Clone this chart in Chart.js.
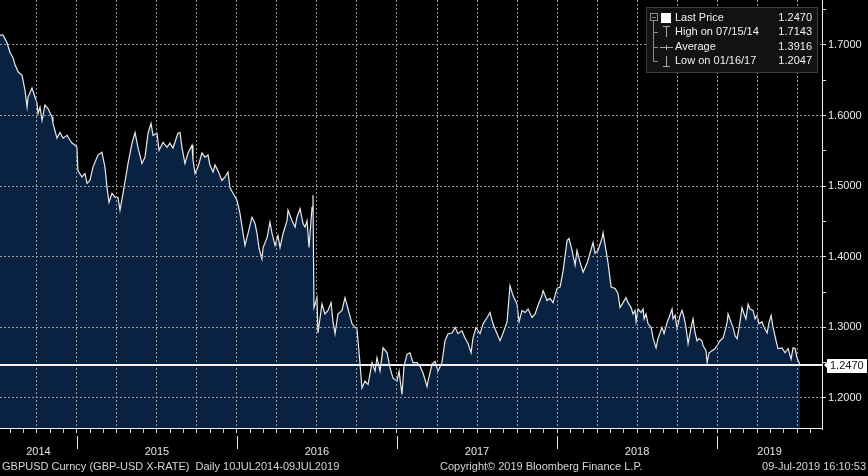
<!DOCTYPE html>
<html>
<head>
<meta charset="utf-8">
<script src="https://cdn.jsdelivr.net/npm/chart.js@4"></script>
<style>
  html, body { margin: 0; padding: 0; background: #000; }
  #wrap { width: 868px; height: 476px; }
</style>
</head>
<body>
<div id="wrap"><canvas id="fx" width="868" height="476"></canvas></div>
<script>
// GBPUSD daily (dates as decimal years)
const dates = [
  2014.519, 2014.538, 2014.563, 2014.582, 2014.600, 2014.613, 2014.632, 2014.657, 2014.675, 2014.688,
  2014.694, 2014.719, 2014.738, 2014.750, 2014.757, 2014.769, 2014.782, 2014.800, 2014.819, 2014.844,
  2014.850, 2014.875, 2014.894, 2014.913, 2014.938, 2014.957, 2014.969, 2014.988, 2015.000, 2015.006,
  2015.031, 2015.050, 2015.063, 2015.081, 2015.100, 2015.131, 2015.156, 2015.175, 2015.188, 2015.200,
  2015.219, 2015.238, 2015.256, 2015.269, 2015.288, 2015.319, 2015.344, 2015.363, 2015.381, 2015.406,
  2015.425, 2015.444, 2015.463, 2015.475, 2015.500, 2015.513, 2015.538, 2015.563, 2015.581, 2015.600,
  2015.631, 2015.644, 2015.656, 2015.675, 2015.694, 2015.719, 2015.725, 2015.738, 2015.756, 2015.781,
  2015.800, 2015.819, 2015.831, 2015.850, 2015.863, 2015.881, 2015.906, 2015.925, 2015.944, 2015.956,
  2015.975, 2016.000, 2016.019, 2016.038, 2016.050, 2016.069, 2016.094, 2016.113, 2016.125, 2016.138,
  2016.156, 2016.163, 2016.188, 2016.206, 2016.219, 2016.238, 2016.256, 2016.269, 2016.288, 2016.313,
  2016.319, 2016.344, 2016.363, 2016.375, 2016.394, 2016.413, 2016.425, 2016.438, 2016.450, 2016.469,
  2016.475, 2016.481, 2016.500, 2016.506, 2016.531, 2016.550, 2016.569, 2016.588, 2016.600, 2016.613,
  2016.631, 2016.656, 2016.675, 2016.694, 2016.719, 2016.738, 2016.750, 2016.769, 2016.781, 2016.800,
  2016.819, 2016.844, 2016.863, 2016.875, 2016.894, 2016.913, 2016.938, 2016.956, 2016.975, 2017.000,
  2017.013, 2017.031, 2017.044, 2017.063, 2017.081, 2017.100, 2017.125, 2017.144, 2017.163, 2017.188,
  2017.194, 2017.219, 2017.238, 2017.256, 2017.281, 2017.300, 2017.319, 2017.344, 2017.363, 2017.381,
  2017.406, 2017.425, 2017.444, 2017.463, 2017.475, 2017.494, 2017.519, 2017.538, 2017.563, 2017.581,
  2017.600, 2017.625, 2017.644, 2017.663, 2017.688, 2017.706, 2017.725, 2017.750, 2017.763, 2017.781,
  2017.800, 2017.819, 2017.844, 2017.863, 2017.881, 2017.906, 2017.913, 2017.938, 2017.956, 2017.975,
  2018.000, 2018.019, 2018.038, 2018.063, 2018.075, 2018.094, 2018.113, 2018.125, 2018.144, 2018.163,
  2018.188, 2018.206, 2018.225, 2018.238, 2018.256, 2018.281, 2018.288, 2018.306, 2018.319, 2018.338,
  2018.363, 2018.381, 2018.394, 2018.413, 2018.431, 2018.444, 2018.463, 2018.475, 2018.488, 2018.494,
  2018.506, 2018.525, 2018.538, 2018.544, 2018.556, 2018.569, 2018.588, 2018.600, 2018.619, 2018.631,
  2018.656, 2018.669, 2018.688, 2018.700, 2018.719, 2018.725, 2018.738, 2018.750, 2018.769, 2018.781,
  2018.794, 2018.806, 2018.819, 2018.838, 2018.850, 2018.863, 2018.875, 2018.888, 2018.906, 2018.913,
  2018.931, 2018.938, 2018.950, 2018.969, 2018.988, 2019.000, 2019.019, 2019.038, 2019.050, 2019.063,
  2019.069, 2019.088, 2019.100, 2019.113, 2019.125, 2019.138, 2019.156, 2019.169, 2019.181, 2019.194,
  2019.206, 2019.225, 2019.238, 2019.250, 2019.263, 2019.281, 2019.294, 2019.313, 2019.325, 2019.338,
  2019.350, 2019.369, 2019.381, 2019.406, 2019.425, 2019.444, 2019.463, 2019.475, 2019.488, 2019.500,
  2019.513, 2019.519
];
const rates = [
  1.714, 1.714, 1.703, 1.689, 1.682, 1.672, 1.662, 1.657, 1.636, 1.612,
  1.626, 1.639, 1.626, 1.618, 1.603, 1.612, 1.593, 1.615, 1.610, 1.598,
  1.589, 1.568, 1.576, 1.568, 1.572, 1.565, 1.561, 1.558, 1.555, 1.522,
  1.513, 1.518, 1.504, 1.508, 1.527, 1.544, 1.548, 1.527, 1.498, 1.477,
  1.490, 1.484, 1.484, 1.466, 1.490, 1.532, 1.561, 1.576, 1.555, 1.532,
  1.541, 1.575, 1.589, 1.572, 1.575, 1.551, 1.562, 1.555, 1.561, 1.554,
  1.575, 1.576, 1.555, 1.532, 1.547, 1.558, 1.537, 1.518, 1.527, 1.547,
  1.541, 1.544, 1.530, 1.520, 1.530, 1.522, 1.508, 1.513, 1.520, 1.498,
  1.490, 1.480, 1.461, 1.433, 1.416, 1.433, 1.456, 1.447, 1.433, 1.412,
  1.397, 1.413, 1.427, 1.449, 1.433, 1.416, 1.430, 1.413, 1.433, 1.451,
  1.466, 1.451, 1.442, 1.456, 1.468, 1.447, 1.442, 1.451, 1.413, 1.470,
  1.487, 1.328, 1.342, 1.292, 1.333, 1.319, 1.324, 1.335, 1.308, 1.291,
  1.319, 1.324, 1.342, 1.326, 1.305, 1.300, 1.298, 1.248, 1.214, 1.224,
  1.219, 1.250, 1.238, 1.257, 1.238, 1.271, 1.264, 1.243, 1.228, 1.224,
  1.238, 1.205, 1.245, 1.262, 1.264, 1.250, 1.250, 1.245, 1.235, 1.216,
  1.224, 1.248, 1.252, 1.238, 1.250, 1.281, 1.291, 1.292, 1.300, 1.291,
  1.295, 1.285, 1.277, 1.264, 1.285, 1.300, 1.291, 1.305, 1.314, 1.321,
  1.305, 1.291, 1.281, 1.292, 1.308, 1.359, 1.345, 1.333, 1.308, 1.324,
  1.321, 1.326, 1.314, 1.319, 1.331, 1.345, 1.352, 1.338, 1.341, 1.335,
  1.355, 1.357, 1.380, 1.423, 1.426, 1.409, 1.388, 1.409, 1.392, 1.378,
  1.391, 1.405, 1.420, 1.405, 1.409, 1.426, 1.434, 1.409, 1.391, 1.357,
  1.355, 1.348, 1.328, 1.335, 1.342, 1.335, 1.328, 1.319, 1.324, 1.308,
  1.326, 1.321, 1.326, 1.312, 1.319, 1.305, 1.300, 1.285, 1.271, 1.284,
  1.300, 1.291, 1.307, 1.314, 1.326, 1.312, 1.317, 1.298, 1.317, 1.324,
  1.314, 1.300, 1.277, 1.300, 1.312, 1.292, 1.281, 1.284, 1.281, 1.274,
  1.267, 1.250, 1.264, 1.267, 1.270, 1.274, 1.281, 1.285, 1.295, 1.307,
  1.319, 1.307, 1.300, 1.288, 1.284, 1.300, 1.328, 1.319, 1.312, 1.333,
  1.326, 1.324, 1.312, 1.317, 1.305, 1.308, 1.300, 1.292, 1.307, 1.317,
  1.300, 1.281, 1.270, 1.271, 1.264, 1.270, 1.255, 1.271, 1.270, 1.257,
  1.250, 1.247
];

const yearLabels = ['2014', '2015', '2016', '2017', '2018', '2019'];
const yGridValues = [1.2, 1.3, 1.4, 1.5, 1.6, 1.7];
const legendLabels = ['Last Price', 'High on 07/15/14', 'Average', 'Low on 01/16/17'];
const legendValues = [1.2470, 1.7143, 1.3916, 1.2047];
const lastPrice = 1.2470;
const footerLeft = 'GBPUSD Curncy (GBP-USD X-RATE)  Daily 10JUL2014-09JUL2019';
const footerMid = 'Copyright\u00A9 2019 Bloomberg Finance L.P.';
const footerRight = '09-Jul-2019 16:10:53';

const FONT = '11px "Liberation Sans", Arial, sans-serif';
const GRID = '#9a9a9a';

const points = dates.map((d, i) => ({ x: d, y: rates[i] }));

function isQuarter(v) {
    const m = Math.round((v - Math.floor(v)) * 12);
    return m % 3 === 0;
}
function isMajorY(v) {
    return Math.abs(v * 10 - Math.round(v * 10)) < 1e-6;
}

// grid rows, axis line, year labels, footer, last price tag and legend box
const overlay = {
    id: 'overlay',
    afterDraw(chart) {
        const ctx = chart.ctx;
        const x = chart.scales.x, y = chart.scales.y;
        const area = chart.chartArea;
        ctx.save();
        ctx.font = FONT;
        ctx.textBaseline = 'middle';

        // horizontal dotted grid
        ctx.fillStyle = GRID;
        yGridValues.forEach(v => {
            const gy = Math.floor(y.getPixelForValue(v));
            for (let px = 0; px < area.right; px += 4) ctx.fillRect(px, gy, 2, 1);
        });

        // bottom axis line and monthly ticks
        const by0 = Math.floor(area.bottom) - 1;
        ctx.fillStyle = '#f4f4f4';
        ctx.fillRect(0, by0, area.right + 1, 1);
        ctx.fillStyle = '#d0d0d0';
        x.ticks.forEach(t => {
            const tx = Math.floor(x.getPixelForValue(t.value));
            ctx.fillRect(tx, by0 + 1, 1, 4);
        });

        // last price line
        const py = Math.round(y.getPixelForValue(lastPrice));
        ctx.fillStyle = '#f2f2f2';
        ctx.fillRect(area.left, py - 1, area.right - area.left, 2);

        // last price tag on the axis
        ctx.fillStyle = '#ffffff';
        ctx.beginPath();
        ctx.moveTo(area.right + 2, py);
        ctx.lineTo(area.right + 6, py - 4);
        ctx.lineTo(area.right + 6, py + 4);
        ctx.closePath();
        ctx.fill();
        ctx.fillRect(area.right + 5, py - 6, 40, 14);
        ctx.fillStyle = '#111';
        ctx.textAlign = 'left';
        ctx.fillText(lastPrice.toFixed(4), area.right + 8, py + 1);

        // year separators and labels
        ctx.fillStyle = '#e6e6e6';
        ctx.textAlign = 'center';
        yearLabels.forEach(lbl => {
            const yr = Number(lbl);
            const s = Math.max(yr, x.min), e = Math.min(yr + 1, x.max);
            const cx = (x.getPixelForValue(s) + x.getPixelForValue(e)) / 2;
            ctx.fillText(lbl, cx, 452);
            if (yr > x.min) {
                const sx = Math.round(x.getPixelForValue(yr));
                ctx.fillRect(sx, 436, 1, 13);
            }
        });

        // footer
        ctx.fillStyle = '#d6d6d6';
        ctx.textAlign = 'left';
        ctx.fillText(footerLeft, 2, 467);
        ctx.fillText(footerMid, 440, 467);
        ctx.textAlign = 'right';
        ctx.fillText(footerRight, 866, 467);

        // legend box
        const bx = 646, by = 7, bw = 172, bh = 66;
        ctx.fillStyle = '#3c3c3c';
        ctx.fillRect(bx, by, bw, bh);
        ctx.fillStyle = '#121212';
        ctx.fillRect(bx + 1, by + 1, bw - 2, bh - 2);

        const rowY = [18, 32, 47, 61];
        // tree lines
        ctx.fillStyle = '#8a8a8a';
        ctx.fillRect(650, 13, 8, 8);
        ctx.fillStyle = '#121212';
        ctx.fillRect(651, 14, 6, 6);
        ctx.fillStyle = '#8a8a8a';
        ctx.fillRect(652, 17, 4, 1);
        ctx.fillRect(653, 21, 1, 41);
        rowY.slice(1).forEach(ry => ctx.fillRect(653, ry, 5, 1));

        // icons
        ctx.fillStyle = '#ffffff';
        ctx.fillRect(661, 13, 10, 10);
        ctx.fillStyle = '#a8a8a8';
        ctx.fillRect(663, 26, 7, 1);
        ctx.fillRect(666, 26, 1, 11);
        ctx.fillRect(660, 47, 13, 1);
        ctx.fillRect(666, 45, 1, 5);
        ctx.fillRect(666, 56, 1, 11);
        ctx.fillRect(663, 66, 7, 1);

        ctx.fillStyle = '#f0f0f0';
        legendLabels.forEach((lbl, i) => {
            ctx.textAlign = 'left';
            ctx.fillText(lbl, 675, rowY[i]);
            ctx.textAlign = 'right';
            ctx.fillText(legendValues[i].toFixed(4), 812, rowY[i]);
        });
        ctx.restore();
    }
};

const chart = new Chart(document.getElementById('fx').getContext('2d'), {
    type: 'line',
    data: {
        datasets: [{
            data: points,
            borderColor: '#e9e9e9',
            borderWidth: 1.2,
            backgroundColor: '#0a2242',
            fill: 'start',
            pointRadius: 0,
            tension: 0
        }]
    },
    options: {
        responsive: false,
        animation: false,
        devicePixelRatio: 1,
        layout: { padding: 0 },
        plugins: {
            legend: { display: false },
            tooltip: { enabled: false }
        },
        scales: {
            x: {
                type: 'linear',
                min: 2014.519,
                max: 2019.656,
                afterBuildTicks: axis => {
                    const t = [];
                    for (let yr = 2014; yr <= 2019; yr++) {
                        for (let m = 0; m < 12; m++) {
                            const v = yr + m / 12;
                            if (v > axis.min && v < axis.max) t.push({ value: v });
                        }
                    }
                    axis.ticks = t;
                },
                afterFit: axis => { axis.height = 47; },
                ticks: { display: false },
                grid: {
                    z: 1,
                    color: c => (c.tick && isQuarter(c.tick.value)) ? GRID : 'rgba(0,0,0,0)',
                    drawTicks: false
                },
                border: { z: 1, display: false, dash: [2, 2] }
            },
            y: {
                position: 'right',
                min: 1.156,
                max: 1.7637,
                afterBuildTicks: axis => {
                    const t = [];
                    for (let k = 24; k <= 35; k++) t.push({ value: k / 20 });
                    axis.ticks = t;
                },
                afterFit: axis => {
                    axis.width = 46;
                    axis.paddingTop = 0;
                    axis.paddingBottom = 0;
                },
                ticks: {
                    color: '#ececec',
                    font: { family: '"Liberation Sans", Arial, sans-serif', size: 11 },
                    padding: 2,
                    autoSkip: false,
                    callback: v => isMajorY(v) ? v.toFixed(4) : ''
                },
                grid: {
                    z: 1,
                    drawOnChartArea: false,
                    tickColor: '#e0e0e0',
                    tickLength: 4
                },
                border: { z: 1, color: '#f0f0f0', width: 1 }
            }
        }
    },
    plugins: [overlay]
});
</script>
</body>
</html>
